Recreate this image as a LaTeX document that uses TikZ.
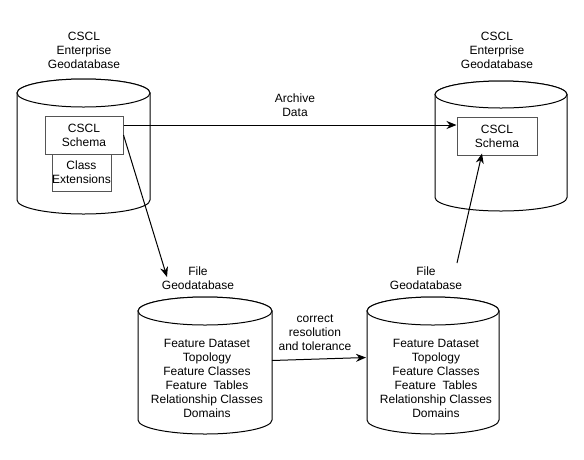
\documentclass[tikz,border=0pt]{standalone}
\usepackage{fontspec}
\setmainfont{Liberation Sans}
\usetikzlibrary{arrows.meta,calc}
\definecolor{boxgray}{HTML}{555555}
\newcommand\mycyl[3]{%
  \path[cylline] ([yshift=-#3]#1.north west) -- ([yshift=#3]#1.south west)
    arc[start angle=180,end angle=360,x radius=#2,y radius=#3]
    -- ([yshift=-#3]#1.north east)
    arc[start angle=0,end angle=180,x radius=#2,y radius=#3] -- cycle;
  \draw[cylline] ([yshift=-#3]#1.north) ellipse[x radius=#2,y radius=#3];
}
\begin{document}
\begin{tikzpicture}[x=1pt,y=-1pt,
  cylnode/.style={draw=none,inner sep=0pt,outer sep=0pt},
  cylline/.style={draw=black,line width=1pt,fill=white},
  boxst/.style={draw=boxgray,line width=1pt,fill=white,inner sep=0pt,align=center,font=\fontsize{12}{14}\selectfont},
  lbl/.style={align=center,font=\fontsize{12}{14}\selectfont,inner sep=2pt},
  arr/.style={-{Stealth[length=10pt,width=8pt]},line width=1pt}]
\useasboundingbox[fill=white] (0,0) rectangle (584,459);

% cylinders
\node[cylnode,minimum width=133pt,minimum height=135pt] (entL) at (83.5,146.5) {};
\node[cylnode,minimum width=132pt,minimum height=130pt] (entR) at (501,146) {};
\node[cylnode,minimum width=134pt,minimum height=137pt] (fgdbL) at (205,365.5) {};
\node[cylnode,minimum width=132pt,minimum height=137pt] (fgdbR) at (433,365.5) {};
\mycyl{entL}{66.5pt}{14pt}
\mycyl{entR}{66pt}{13.5pt}
\mycyl{fgdbL}{67pt}{14pt}
\mycyl{fgdbR}{66pt}{14pt}

% boxes
\node[boxst,minimum width=59pt,minimum height=37pt] (extL) at (81.5,172.5) {Class\\Extensions};
\node[boxst,minimum width=78pt,minimum height=38pt] (schemaL) at (84,135) {CSCL\\Schema};
\node[boxst,minimum width=80pt,minimum height=38pt] (schemaR) at (497,136) {CSCL\\Schema};

% labels
\node[lbl] (lblEntL) at (84,50) {CSCL\\Enterprise\\Geodatabase};
\node[lbl] (lblEntR) at (497,50) {CSCL\\Enterprise\\Geodatabase};
\node[lbl] (lblFileL) at (198,278) {File\\Geodatabase};
\node[lbl] (lblFileR) at (426,278) {File\\Geodatabase};
\node[lbl] (lblArch) at (295,105) {Archive\\Data};
\node[lbl] (lblCorr) at (315,333) {correct\\resolution\\and tolerance};
\node[lbl] (txtL) at (207,378.5) {Feature Dataset\\Topology\\Feature Classes\\Feature\ \ Tables\\Relationship Classes\\Domains};
\node[lbl] (txtR) at (436,378.5) {Feature Dataset\\Topology\\Feature Classes\\Feature\ \ Tables\\Relationship Classes\\Domains};

% connectors
\coordinate (tipL) at (167,277);
\coordinate (startR) at (457,263);
\draw[arr] ([yshift=10pt]schemaL.east) -- ([yshift=11pt]schemaR.west);
\draw[arr] (schemaL.east) -- (tipL);
\draw[arr] ([yshift=5pt]fgdbL.east) -- ([yshift=8pt,xshift=-1pt]fgdbR.west);
\draw[arr] (startR) -- ([xshift=-15pt,yshift=2pt]schemaR.south);
\end{tikzpicture}
\end{document}
